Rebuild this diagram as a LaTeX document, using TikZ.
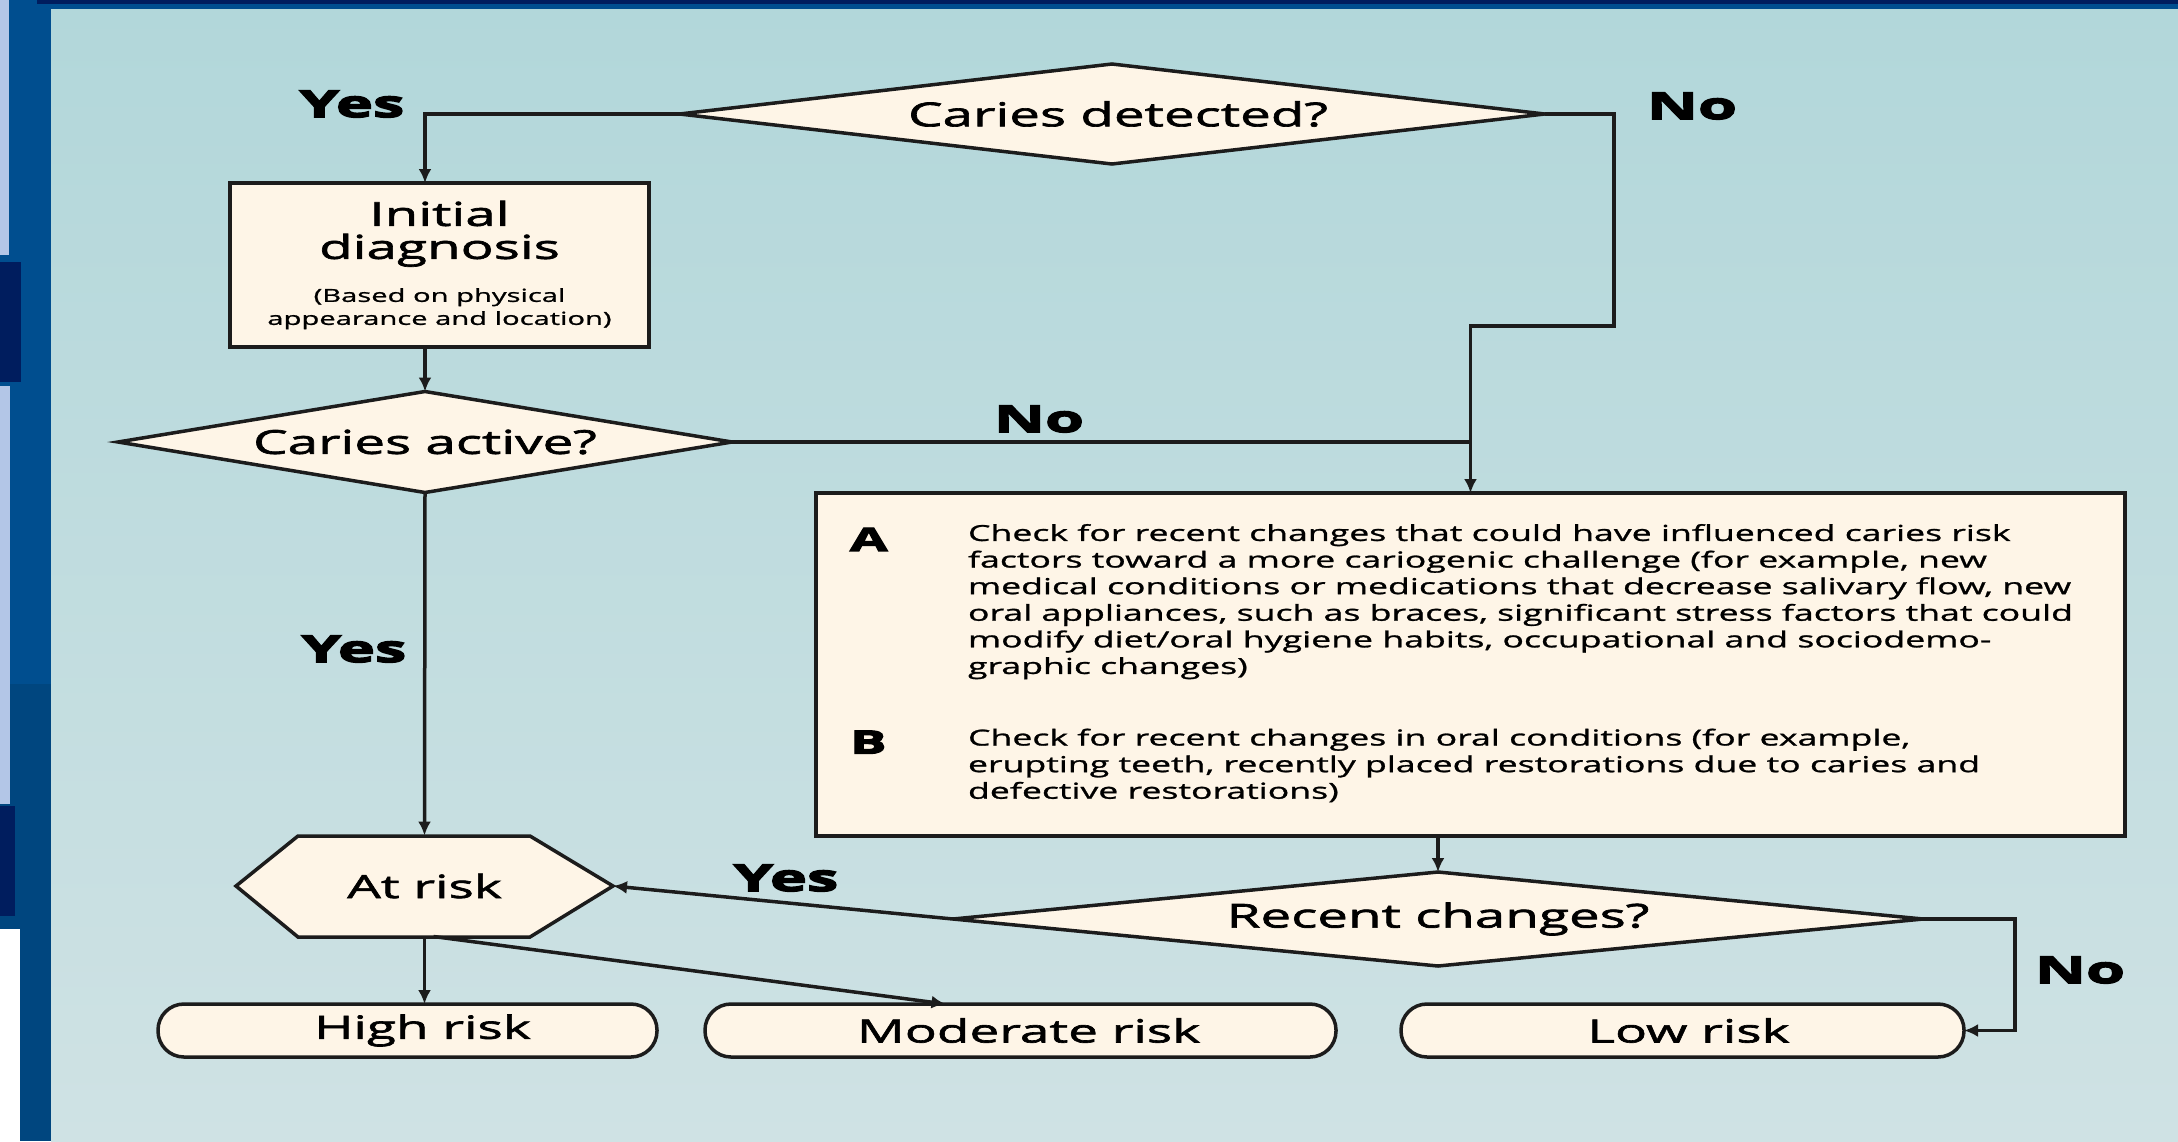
\documentclass[tikz,border=0pt]{standalone}
\usepackage{fontspec}
\setmainfont{Open Sans}
\newfontfamily\ttlfont[FakeStretch=1.66,FakeBold=2]{Open Sans}
\newfontfamily\txtfont[FakeStretch=1.62,FakeBold=1.2]{Open Sans}
\newfontfamily\ynfont[FakeStretch=1.7,BoldFeatures={FakeBold=4}]{Open Sans}
\usetikzlibrary{arrows.meta,shapes.geometric,calc}
\definecolor{bgtop}{HTML}{B2D7DA}
\definecolor{bgbot}{HTML}{CFE2E4}
\definecolor{cream}{HTML}{FEF5E7}
\definecolor{lnc}{HTML}{1C1C1C}
\definecolor{bandblue}{HTML}{004E8F}
\definecolor{bandlow}{HTML}{00467F}
\definecolor{navy}{HTML}{001D5E}
\definecolor{lav}{HTML}{B3C6E7}
\tikzset{
	dec/.style={diamond, aspect=8, draw=lnc, line width=3.5pt, fill=cream,
		inner sep=0pt, outer sep=0pt, font=\ttlfont\fontsize{33}{36}\selectfont},
	pbox/.style={rectangle, draw=lnc, line width=3.5pt, fill=cream,
		inner sep=0pt, outer sep=0pt},
	term/.style={pbox, rounded corners=26pt, minimum height=53pt,
		font=\ttlfont\fontsize{32}{36}\selectfont},
	yn/.style={inner sep=0pt, text=black, font=\ynfont\bfseries\fontsize{37}{40}\selectfont},
	link/.style={draw=lnc, line width=3.5pt},
	arr/.style={link, -{Latex[length=14pt,width=13pt]}},
}

\begin{document}
\begin{tikzpicture}[x=1pt, y=-1pt]
	\useasboundingbox (0,0) rectangle (2178,1141);
	% slide frame
	\fill[bandblue] (0,0) rectangle (51,1141);
	\fill[bandlow] (0,684) rectangle (51,1141);
	\fill[lav] (0,0) rectangle (9,255);
	\fill[navy] (0,262) rectangle (21,382);
	\fill[lav] (0,386) rectangle (10,804);
	\fill[navy] (0,806) rectangle (15,916);
	\fill[white] (0,929) rectangle (20,1141);
	\fill[bandblue] (37,0) rectangle (2178,9);
	\fill[navy] (37,0) rectangle (2178,4);
	\shade[top color=bgtop, bottom color=bgbot] (51,9) rectangle (2178,1141);

	% nodes
	\node[dec, minimum width=865pt, minimum height=100pt] at (1112,114) (det) {\hspace*{12pt}Caries detected?};
	\node[pbox, minimum width=419pt, minimum height=164pt, align=center,
		font=\ttlfont\fontsize{33}{33}\selectfont] at (439.5,265) (init)
		{Initial\\diagnosis\\[10pt]{\txtfont\fontsize{18}{23}\selectfont (Based on physical}\\[-10pt]{\txtfont\fontsize{18}{23}\selectfont appearance and location)}};
	\node[dec, minimum width=614pt, minimum height=101pt] at (425,442) (act) {Caries active?};
	\node[pbox, minimum width=1309pt, minimum height=343pt,
		font=\txtfont\fontsize{22}{26.6}\selectfont] at (1470.5,664.5) (chk)
		{\begin{tabular}{@{}p{118pt}@{}l@{\hspace{18pt}}}
		\raisebox{-10pt}[0pt][0pt]{\ynfont\bfseries\fontsize{32}{36}\selectfont A} & Check for recent changes that could have influenced caries risk\\
		& factors toward a more cariogenic challenge (for example, new\\
		& medical conditions or medications that decrease salivary flow, new\\
		& oral appliances, such as braces, significant stress factors that could\\
		& modify diet/oral hygiene habits, occupational and sociodemo-\\
		& graphic changes)\\[45pt]
		\raisebox{-8pt}[0pt][0pt]{\ynfont\bfseries\fontsize{32}{36}\selectfont B} & Check for recent changes in oral conditions (for example,\\
		& erupting teeth, recently placed restorations due to caries and\\
		& defective restorations)
		\end{tabular}};
	\fill[cream, draw=lnc, line width=3.5pt, line join=miter]
		(236,886) -- (298,836) -- (530,836) -- (613,886) -- (530,937) -- (298,937) -- cycle;
	\node[minimum width=377pt, minimum height=101pt, inner sep=0pt, outer sep=0pt,
		font=\ttlfont\fontsize{32}{36}\selectfont] at (424.5,886) (atrisk) {At risk};
	\node[dec, minimum width=970pt, minimum height=94pt] at (1438,919) (rec) {Recent changes?};
	\node[term, minimum width=499pt] at (407.5,1030.5) (high) {\hspace*{30pt}High risk};
	\node[term, minimum width=631pt] at (1020.5,1030.5) (mod) {\hspace*{16pt}Moderate risk};
	\node[term, minimum width=563pt] at (1682.5,1030.5) (low) {\hspace*{12pt}Low risk};

	\coordinate (bendA) at (1614,326);
	\coordinate (bendB) at (2015,1030.5);

	% labels
	\node[yn] at (352,104) (yes1) {Yes};
	\node[yn] at (1692,106) (no1) {No};
	\node[yn] at (1039,419) (no2) {No};
	\node[yn] at (354,649) (yes2) {Yes};
	\node[yn] at (786,878) (yes3) {Yes};
	\node[yn] at (2080,970) (no3) {No};

	% connectors
	\draw[arr] (det.west) -| ([xshift=-14.5pt]init.north);
	\draw[arr] ([xshift=-14.5pt]init.south) -- (act.north);
	\draw[arr] (act.south) -- (atrisk.north);
	\draw[link] (act.east) -- (act.east -| chk.north);
	\draw[arr] (det.east) -| (bendA) -- (bendA -| chk.north) -- (chk.north);
	\draw[arr] (rec.north |- chk.south) -- (rec.north);
	\draw[arr] (rec.west) -- (atrisk.east);
	\draw[arr] (rec.east) -| (bendB) -- (low.east);
	\draw[arr] (atrisk.south) -- (atrisk.south |- high.north);
	\draw[arr] ([xshift=9pt]atrisk.south) -- ([xshift=-75pt]mod.north);
\end{tikzpicture}
\end{document}
